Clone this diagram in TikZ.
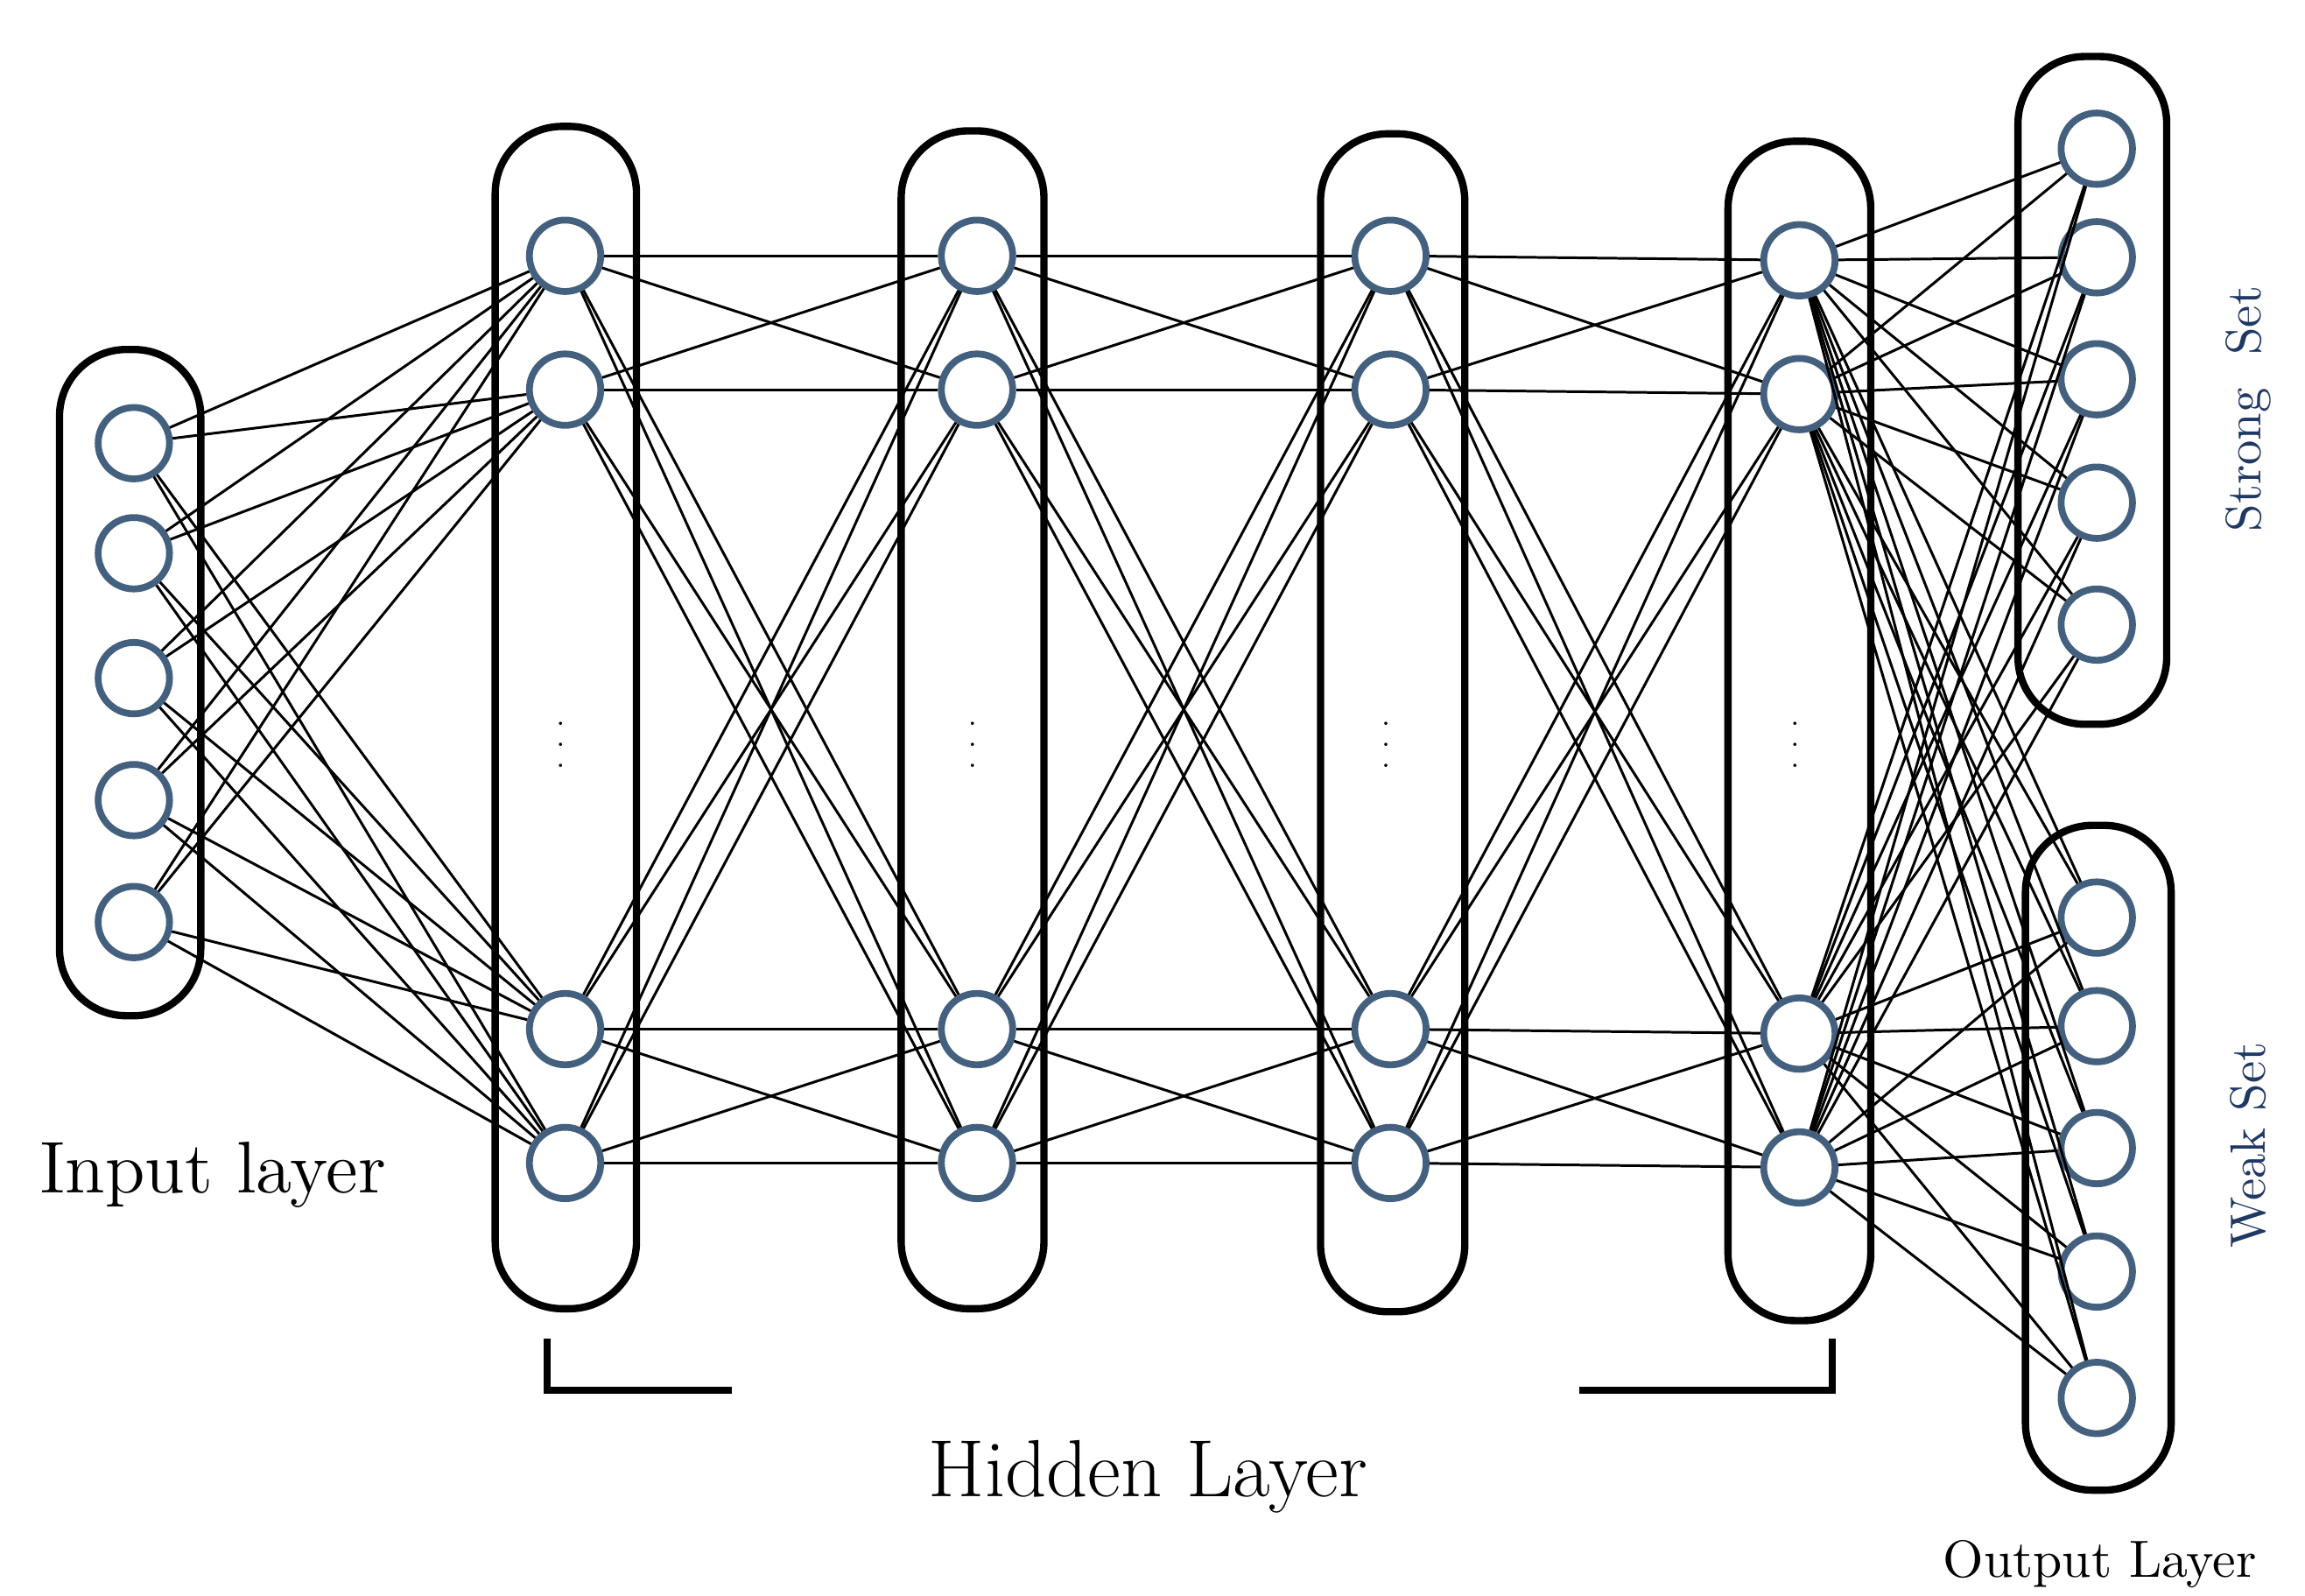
\documentclass[tikz,border=0pt]{standalone}
\usepackage{xcolor}
\usetikzlibrary{positioning}
\definecolor{unitcolour}{HTML}{44607F}
\definecolor{setcolour}{HTML}{1F3864}
\newcommand\unitrad{24}
\newcommand\boxwd{1.4pt}
\tikzstyle{unit}   = [circle, draw=unitcolour, line width=1.3pt, fill=white, minimum size=48*0.01cm, inner sep=0pt]
\tikzstyle{layer}  = [draw, line width=\boxwd, rounded corners=45*0.01cm]
\tikzstyle{weight} = [line width=.5pt]
\begin{document}
\begin{tikzpicture}[x=0.01cm,y=-0.01cm]
  \useasboundingbox (0,0) rectangle (1550,1073);
  % layer boxes
  \draw[layer] (40,235) rectangle (135,683);
  \draw[layer] (333,85) rectangle (428,880);
  \draw[layer] (606,88) rectangle (702,880);
  \draw[layer] (888,90) rectangle (985,882);
  \draw[layer] (1162,95) rectangle (1258,888);
  \draw[layer] (1357,38) rectangle (1457,487);
  \draw[layer] (1362,555) rectangle (1460,1002);
  % input units
  \foreach \k/\y in {1/298,2/372,3/456,4/538,5/620}
    \node[unit] (i\k) at (90,\y) {};
  % hidden units
  \foreach \l/\x/\d in {1/380/0,2/657/0,3/935/0,4/1210/3}{
    \foreach \k/\y in {1/172,2/262,3/692,4/782}
      \node[unit] (h\l\k) at (\x,\y+\d) {};
    \node[font=\tiny] (dots\l) at (\x-3,490) {$\vdots$};
  }
  % output units
  \foreach \k/\y in {1/100,2/173,3/255,4/338,5/420}
    \node[unit] (s\k) at (1410,\y) {};
  \foreach \k/\y in {1/617,2/690,3/772,4/855,5/940}
    \node[unit] (w\k) at (1410,\y) {};
  % weights
  \begin{scope}[weight]
    \foreach \a in {1,...,5}
      \foreach \b in {1,...,4}
        \draw (i\a) -- (h1\b);
    \foreach \l/\m in {1/2,2/3,3/4}
      \foreach \a in {1,...,4}
        \foreach \b in {1,...,4}
          \draw (h\l\a) -- (h\m\b);
    \foreach \a in {1,...,4}
      \foreach \b in {1,...,5}{
        \draw (h4\a) -- (s\b);
        \draw (h4\a) -- (w\b);
      }
  \end{scope}
  % brackets
  \coordinate (bl1) at (368,900);
  \coordinate (bl2) at (368,935);
  \coordinate (bl3) at (492,935);
  \coordinate (br1) at (1062,935);
  \coordinate (br2) at (1232,935);
  \coordinate (br3) at (1232,900);
  \draw[line width=1.4pt] (bl1) -- (bl2) -- (bl3);
  \draw[line width=1.4pt] (br1) -- (br2) -- (br3);
  % labels
  \node (inlabel) at (143,790) {\fontsize{14}{16}\selectfont Input layer};
  \node (hidlabel) at (772,993) {\fontsize{15.5}{18}\selectfont Hidden Layer};
  \node (outlabel) at (1412,1052) {\fontsize{10}{12}\selectfont Output Layer};
  \node[rotate=90, text=setcolour] (stronglabel) at (1512,275) {\fontsize{9.5}{11}\selectfont Strong\ \ Set};
  \node[rotate=90, text=setcolour] (weaklabel) at (1512,770) {\fontsize{9.5}{11}\selectfont Weak Set};
\end{tikzpicture}
\end{document}
